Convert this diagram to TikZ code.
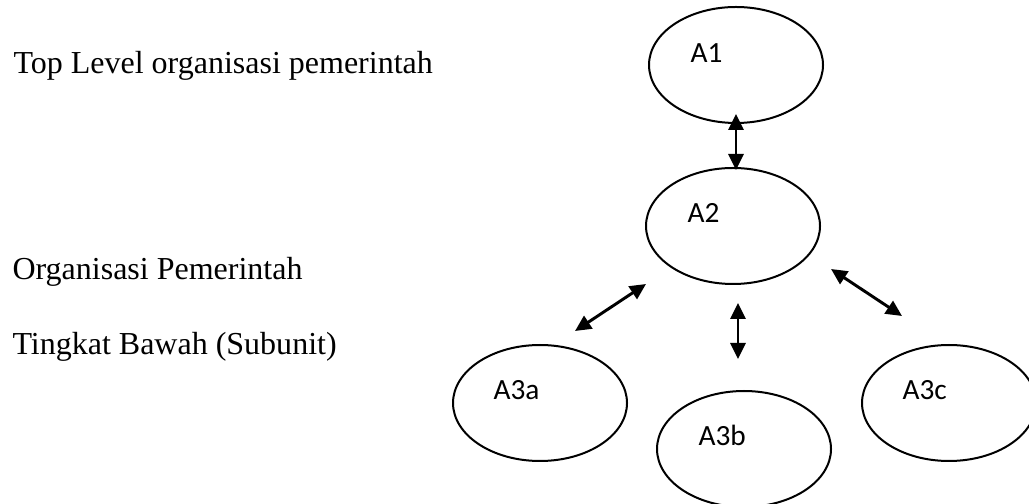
\documentclass[tikz,border=0pt]{standalone}
\usepackage{fontspec}
\setmainfont{Liberation Serif}
\newfontfamily\calfont{Carlito}
\usetikzlibrary{shapes.geometric,arrows.meta}

\begin{document}
\begin{tikzpicture}[x=0.375pt, y=-0.375pt,
  oval/.style={draw, line width=0.75pt, ellipse, minimum width=65.25pt, minimum height=43.5pt, inner sep=0pt},
  lbl/.style={anchor=west, inner sep=0pt, font=\calfont\fontsize{11}{13}\selectfont},
  side/.style={anchor=base west, inner sep=0pt, font=\fontsize{12}{14}\selectfont},
  link/.style={line width=1.1pt, {Triangle[width=5.6pt,length=6pt]}-{Triangle[width=5.6pt,length=6pt]}}]

  \useasboundingbox (0,0) rectangle (1029,504);

  %% left texts
  \node[side] (top) at (13,74) {Top Level organisasi pemerintah};
  \node[side] (sub1) at (12,280) {Organisasi Pemerintah};
  \node[side] (sub2) at (12,355) {Tingkat Bawah (Subunit)};

  %% units
  \node[oval] (A1) at (736,65) {};
  \node[oval] (A2) at (733,226) {};
  \node[oval] (A3a) at (540,403) {};
  \node[oval] (A3b) at (744,449) {};
  \node[oval] (A3c) at (949,403) {};

  \node[lbl] (tA1) at ([shift={(-46,-12)}]A1.center) {A1};
  \node[lbl] (tA2) at ([shift={(-46,-13)}]A2.center) {A2};
  \node[lbl] (tA3a) at ([shift={(-47,-13)}]A3a.center) {A3a};
  \node[lbl] (tA3b) at ([shift={(-46,-14)}]A3b.center) {A3b};
  \node[lbl] (tA3c) at ([shift={(-47,-13)}]A3c.center) {A3c};

  %% arrow ends
  \coordinate (p1) at (736,114);
  \coordinate (q1) at (736,170);
  \coordinate (p2) at (646,284);
  \coordinate (q2) at (575,331);
  \coordinate (p3) at (738,303);
  \coordinate (q3) at (738,359);
  \coordinate (p4) at (831,269);
  \coordinate (q4) at (902,316);

  \draw[link] (p1) -- (q1); %% A1<->A2
  \draw[link] (p2) -- (q2); %% A2<->A3a
  \draw[link] (p3) -- (q3); %% A2<->A3b
  \draw[link] (p4) -- (q4); %% A2<->A3c
\end{tikzpicture}
\end{document}
